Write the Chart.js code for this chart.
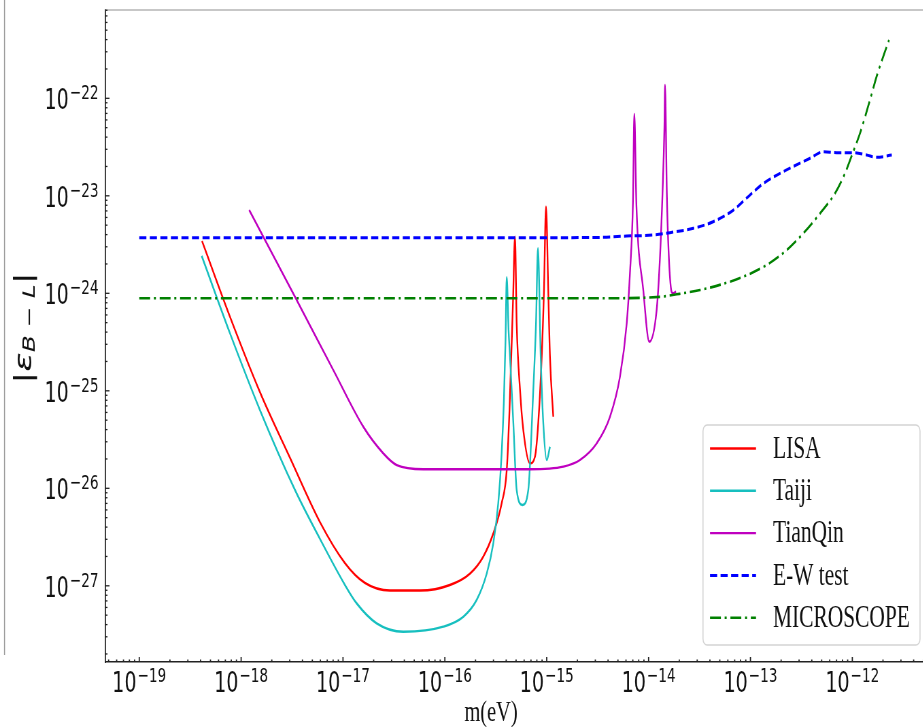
<!DOCTYPE html>
<html>
<head>
<meta charset="utf-8">
<script src="https://cdn.jsdelivr.net/npm/chart.js@4.4.1/dist/chart.umd.min.js"></script>
<style>
  html, body { margin: 0; padding: 0; background: #fff; overflow: hidden; }
  #frame { position: relative; width: 923px; height: 727px; overflow: hidden; }
  /* the figure is drawn wide, then squeezed horizontally */
  #stretch { position: absolute; left: 0; top: 0; width: 1385px; height: 727px; transform: scaleX(0.68); transform-origin: 0 0; }
</style>
</head>
<body>
<div id="frame"><div id="stretch"><canvas id="chart" width="1385" height="727"></canvas></div></div>
<script>
const SQUEEZE = 0.68;
const sx = v => v / SQUEEZE;   // screen px -> canvas px (horizontal)

// decades that carry a label
const massDecades = [-19, -18, -17, -16, -15, -14, -13, -12];
const epsDecades = [-27, -26, -25, -24, -23, -22];

// LISA
const lisaMass = [4.13e-19, 7.77e-19, 1.53e-18, 3.02e-18, 5.94e-18, 1.045e-17, 1.64e-17, 2.89e-17, 5.7e-17,
  1.12e-16, 1.77e-16, 2.38e-16, 2.99e-16, 3.61e-16, 4.05e-16, 4.31e-16, 4.67e-16, 4.88e-16, 5.07e-16,
  5.47e-16, 5.89e-16, 6.85e-16, 7.67e-16, 8.26e-16, 8.93e-16, 9.40e-16, 9.84e-16, 1.035e-15, 1.076e-15, 1.16e-15];
const lisaEps = [3.44e-24, 5.75e-25, 9.7e-26, 2.05e-26, 4.5e-27, 1.71e-27, 1.07e-27, 8.95e-28, 8.95e-28,
  1.02e-27, 1.34e-27, 1.99e-27, 3.45e-27, 7.0e-27, 1.54e-26, 6.35e-26, 8.53e-25, 3.80e-24, 4.92e-25,
  1.02e-25, 3.96e-26, 1.80e-26, 2.11e-26, 4.68e-26, 2.24e-25, 1.08e-24, 7.73e-24, 1.08e-24, 2.24e-25, 5.42e-26];

// Taiji
const taijiMass = [4.10e-19, 7.77e-19, 1.53e-18, 3.38e-18, 5.94e-18, 1.045e-17, 1.36e-17, 2.14e-17, 3.91e-17,
  9.66e-17, 1.52e-16, 2.05e-16, 2.58e-16, 2.99e-16, 3.34e-16, 3.61e-16, 3.80e-16, 3.94e-16, 4.05e-16,
  4.22e-16, 4.36e-16, 4.70e-16, 5.07e-16, 5.78e-16, 6.59e-16, 7.38e-16, 7.85e-16, 8.20e-16, 8.73e-16,
  9.25e-16, 1.0e-15, 1.076e-15];
const taijiEps = [2.42e-24, 3.89e-25, 6.35e-26, 9.6e-27, 3.03e-27, 1.02e-27, 6.62e-28, 4.12e-28, 3.38e-28,
  3.81e-28, 4.82e-28, 7.14e-28, 1.34e-27, 2.73e-27, 7.0e-27, 2.29e-26, 8.05e-26, 3.32e-25, 1.46e-24,
  4.21e-25, 2.24e-25, 4.68e-26, 9.6e-27, 6.75e-27, 9.6e-27, 1.02e-25, 4.95e-25, 2.90e-24, 2.24e-25,
  4.68e-26, 1.95e-26, 2.67e-26];

// TianQin
const tianqinMass = [1.20e-18, 3.51e-18, 8.04e-18, 1.58e-17, 2.48e-17, 3.37e-17, 6.14e-17, 1.52e-16, 6.85e-16,
  1.46e-15, 2.12e-15, 3.10e-15, 4.18e-15, 5.24e-15, 6.10e-15, 6.56e-15, 7.03e-15, 7.24e-15, 7.60e-15,
  8.87e-15, 1.016e-14, 1.20e-14, 1.29e-14, 1.37e-14, 1.43e-14, 1.45e-14, 1.51e-14, 1.56e-14, 1.65e-14,
  1.73e-14, 1.86e-14];
const tianqinEps = [7.14e-24, 8.53e-25, 1.63e-25, 4.29e-26, 2.29e-26, 1.73e-26, 1.57e-26, 1.57e-26, 1.57e-26,
  1.67e-26, 1.95e-26, 2.90e-26, 5.42e-26, 1.40e-25, 4.92e-25, 1.60e-24, 9.06e-24, 6.90e-23, 7.73e-24,
  1.08e-24, 3.19e-25, 6.75e-25, 2.20e-24, 1.07e-23, 5.12e-23, 1.37e-22, 1.06e-23, 3.26e-24, 1.17e-24,
  1.0e-24, 1.04e-24];

// E-W test
const ewMass = [1e-19, 1e-18, 1e-17, 1e-16, 1e-15, 3.6e-15, 6.1e-15, 1.11e-14, 1.62e-14, 2.75e-14, 4.3e-14,
  6.8e-14, 9.9e-14, 1.34e-13, 1.95e-13, 3.85e-13, 5.2e-13, 7.0e-13, 1.02e-12, 1.38e-12, 1.73e-12, 2.44e-12];
const ewEps = [3.72e-24, 3.72e-24, 3.72e-24, 3.72e-24, 3.72e-24, 3.75e-24, 3.87e-24, 3.96e-24, 4.19e-24,
  4.64e-24, 5.42e-24, 7.14e-24, 1.02e-23, 1.34e-23, 1.70e-23, 2.43e-23, 2.83e-23, 2.77e-23, 2.77e-23,
  2.62e-23, 2.48e-23, 2.62e-23];

// MICROSCOPE
const microMass = [1e-19, 1e-18, 1e-17, 1e-16, 1e-15, 3.6e-15, 1.29e-14, 1.89e-14, 3.2e-14, 5.0e-14, 8.5e-14,
  1.44e-13, 2.27e-13, 3.3e-13, 4.82e-13, 6.76e-13, 8.47e-13, 1.02e-12, 1.19e-12, 1.49e-12, 1.73e-12, 2.29e-12];
const microEps = [8.9e-25, 8.9e-25, 8.9e-25, 8.9e-25, 8.9e-25, 8.9e-25, 9.2e-25, 9.77e-25, 1.08e-24, 1.22e-24,
  1.48e-24, 1.95e-24, 2.78e-24, 4.12e-24, 6.6e-24, 1.06e-23, 1.70e-23, 2.83e-23, 4.38e-23, 9.6e-23,
  1.67e-22, 3.96e-22];

function series(xs, ys) {
  return xs.map((x, i) => ({ x: x, y: ys[i] }));
}

function line(label, xs, ys, color, width, dash, order) {
  return {
    label: label,
    data: series(xs, ys),
    borderColor: color,
    borderWidth: width,
    borderDash: dash,
    pointRadius: 0,
    fill: false,
    cubicInterpolationMode: 'monotone',
    order: order
  };
}

const DASHED = [10.5, 5];
const DASHDOT = [16, 5.5, 3, 5.5];

const datasets = [
  line('LISA', lisaMass, lisaEps, '#ff0000', 2.4, [], 4),
  line('Taiji', taijiMass, taijiEps, '#17bfbf', 2.4, [], 3),
  line('TianQin', tianqinMass, tianqinEps, '#bf00bf', 2.4, [], 2),
  line('E-W test', ewMass, ewEps, '#0000ff', 3, DASHED, 1),
  line('MICROSCOPE', microMass, microEps, '#008000', 2.6, DASHDOT, 0)
];

const BASE_FONT = '28px "DejaVu Sans"';
const EXP_FONT = '20px "DejaVu Sans"';

// "10" with a raised exponent; align is 'right' or 'center' about x
function powerLabel(ctx, exp, x, baseline, align) {
  const ex = (exp < 0 ? '\u2212' : '') + Math.abs(exp);
  ctx.font = BASE_FONT;
  const w1 = ctx.measureText('10').width;
  ctx.font = EXP_FONT;
  const w2 = ctx.measureText(ex).width;
  const gap = 1.5;
  const total = w1 + gap + w2;
  const x0 = align === 'right' ? x - total : x - total / 2;
  ctx.font = BASE_FONT;
  ctx.fillText('10', x0, baseline);
  ctx.font = EXP_FONT;
  ctx.fillText(ex, x0 + w1 + gap, baseline - 10);
}

// log ticks pointing into the plot, tick labels, axis titles, top spine and the legend box
const decorations = {
  id: 'decorations',
  afterDraw(chart) {
    const ctx = chart.ctx;
    const area = chart.chartArea;
    const xs = chart.scales.x, ys = chart.scales.y;
    ctx.save();

    // thin frame line at the far left
    ctx.strokeStyle = '#9a9a9a';
    ctx.lineWidth = 1.5;
    ctx.beginPath();
    ctx.moveTo(sx(4.5), 0);
    ctx.lineTo(sx(4.5), 655);
    ctx.stroke();

    // top spine
    ctx.strokeStyle = '#b4b4b4';
    ctx.lineWidth = 1.6;
    ctx.beginPath();
    ctx.moveTo(area.left, area.top);
    ctx.lineTo(area.right, area.top);
    ctx.stroke();

    // tick marks
    ctx.strokeStyle = '#222';
    const logTicks = (scale, draw) => {
      const lo = Math.floor(Math.log10(scale.min)), hi = Math.ceil(Math.log10(scale.max));
      for (let e = lo; e <= hi; e++) {
        for (let k = 1; k <= 9; k++) {
          const v = k * Math.pow(10, e);
          if (v < scale.min || v > scale.max) continue;
          draw(scale.getPixelForValue(v), k === 1);
        }
      }
    };
    ctx.lineWidth = 1.8;
    logTicks(xs, (p, major) => {
      ctx.beginPath();
      ctx.moveTo(p, area.bottom);
      ctx.lineTo(p, area.bottom - (major ? 5 : 2.5));
      ctx.stroke();
    });
    ctx.lineWidth = 1.3;
    logTicks(ys, (p, major) => {
      ctx.beginPath();
      ctx.moveTo(area.left, p);
      ctx.lineTo(area.left + sx(major ? 4.5 : 2.5), p);
      ctx.stroke();
    });

    // tick labels
    ctx.fillStyle = '#111';
    ctx.textAlign = 'left';
    ctx.textBaseline = 'alphabetic';
    massDecades.forEach(e => {
      powerLabel(ctx, e, xs.getPixelForValue(Math.pow(10, e)), 692, 'center');
    });
    epsDecades.forEach(e => {
      powerLabel(ctx, e, sx(98.5), ys.getPixelForValue(Math.pow(10, e)) + 11, 'right');
    });

    // x title
    ctx.font = '30px "Liberation Serif"';
    ctx.textAlign = 'center';
    ctx.fillText('m(eV)', sx(491), 721);

    // y title |ε_{B-L}|
    ctx.save();
    ctx.translate(sx(25), 328);
    ctx.rotate(-Math.PI / 2);
    const parts = [
      { t: '|', f: '36px "DejaVu Sans"', dy: 0 },
      { t: 'ε', f: 'italic 36px "DejaVu Sans"', dy: 0 },
      { t: 'B', f: 'italic 25px "DejaVu Sans"', dy: 8 },
      { t: ' − ', f: '25px "DejaVu Sans"', dy: 8 },
      { t: 'L', f: 'italic 25px "DejaVu Sans"', dy: 8 },
      { t: '|', f: '36px "DejaVu Sans"', dy: 0 }
    ];
    let total = 0;
    parts.forEach(p => { ctx.font = p.f; p.w = ctx.measureText(p.t).width; total += p.w; });
    let cx = -total / 2;
    ctx.textAlign = 'left';
    ctx.textBaseline = 'middle';
    parts.forEach(p => { ctx.font = p.f; ctx.fillText(p.t, cx, p.dy); cx += p.w; });
    ctx.restore();

    // legend
    const bx = sx(703), by = 425, bw = sx(920) - sx(703), bh = 220, r = 6;
    ctx.beginPath();
    ctx.moveTo(bx + r, by);
    ctx.arcTo(bx + bw, by, bx + bw, by + bh, r);
    ctx.arcTo(bx + bw, by + bh, bx, by + bh, r);
    ctx.arcTo(bx, by + bh, bx, by, r);
    ctx.arcTo(bx, by, bx + bw, by, r);
    ctx.closePath();
    ctx.fillStyle = 'rgba(255,255,255,0.8)';
    ctx.fill();
    ctx.strokeStyle = '#d4d4d4';
    ctx.lineWidth = 1.5;
    ctx.stroke();

    ctx.font = '31.5px "Liberation Serif"';
    ctx.textAlign = 'left';
    ctx.textBaseline = 'middle';
    chart.data.datasets.forEach((ds, i) => {
      const y = 448.5 + i * 42.3;
      ctx.strokeStyle = ds.borderColor;
      ctx.lineWidth = ds.borderWidth;
      ctx.setLineDash(ds.borderDash || []);
      ctx.beginPath();
      ctx.moveTo(sx(710), y);
      ctx.lineTo(sx(756), y);
      ctx.stroke();
      ctx.setLineDash([]);
      ctx.fillStyle = '#111';
      ctx.fillText(ds.label, sx(773), y + 1);
    });
    ctx.restore();
  }
};

new Chart(document.getElementById('chart'), {
  type: 'line',
  data: { datasets: datasets },
  options: {
    responsive: false,
    animation: false,
    events: [],
    layout: { padding: { top: 10, right: 13, left: 0, bottom: 0 } },
    plugins: { legend: { display: false }, tooltip: { enabled: false } },
    scales: {
      x: {
        type: 'logarithmic',
        min: 4.61e-20,
        max: 6.19e-12,
        grid: { display: false, drawTicks: false },
        border: { display: true, color: '#222', width: 1.6 },
        ticks: { display: false },
        afterFit(scale) { scale.height = 65; scale.paddingLeft = 0; scale.paddingRight = 0; }
      },
      y: {
        type: 'logarithmic',
        min: 1.654e-28,
        max: 8.05e-22,
        grid: { display: false, drawTicks: false },
        border: { display: true, color: '#222', width: 1.8 },
        ticks: { display: false },
        afterFit(scale) { scale.width = 154.4; scale.paddingTop = 0; scale.paddingBottom = 0; }
      }
    }
  },
  plugins: [decorations]
});
</script>
</body>
</html>
